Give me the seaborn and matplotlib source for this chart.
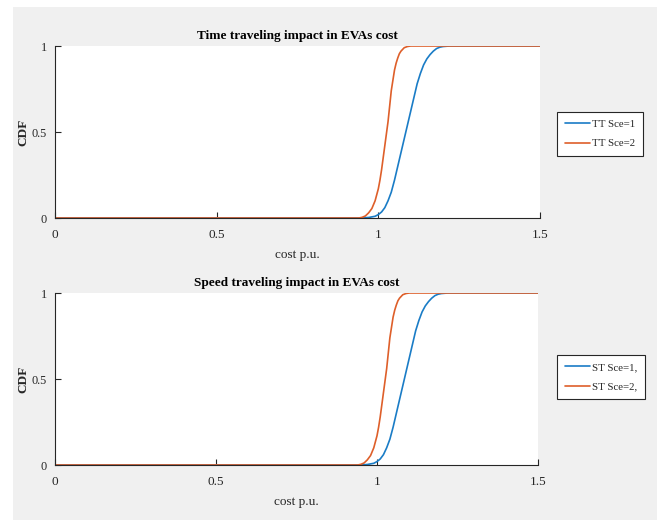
import numpy as np
import pandas as pd
import matplotlib
matplotlib.use("Agg")
import matplotlib.pyplot as plt
import seaborn as sns
from matplotlib.patches import Rectangle
from matplotlib.lines import Line2D

# ---- data ----
tt1_x = [0, 0.95, 0.97, 0.99, 1.00, 1.01, 1.02, 1.03, 1.04, 1.05, 1.06, 1.07, 1.08, 1.09, 1.10,
         1.11, 1.12, 1.13, 1.14, 1.15, 1.16, 1.17, 1.18, 1.19, 1.20, 1.22, 1.5]
tt1_y = [0, 0, 0.003, 0.01, 0.02, 0.035, 0.06, 0.10, 0.15, 0.22, 0.30, 0.38, 0.46, 0.54, 0.62,
         0.70, 0.78, 0.84, 0.89, 0.925, 0.95, 0.97, 0.985, 0.993, 0.997, 1.0, 1.0]
tt2_x = [0, 0.94, 0.95, 0.96, 0.97, 0.98, 0.99, 1.00, 1.005, 1.01, 1.015, 1.02, 1.025, 1.03, 1.035,
         1.04, 1.045, 1.05, 1.055, 1.06, 1.065, 1.07, 1.08, 1.09, 1.10, 1.5]
tt2_y = [0, 0, 0.004, 0.012, 0.03, 0.055, 0.10, 0.17, 0.22, 0.28, 0.35, 0.42, 0.49, 0.56, 0.65,
         0.74, 0.80, 0.86, 0.90, 0.93, 0.955, 0.97, 0.99, 0.997, 1.0, 1.0]

st1_x = [0, 0.95, 0.97, 0.99, 1.00, 1.01, 1.02, 1.03, 1.04, 1.05, 1.06, 1.07, 1.08, 1.09, 1.10,
         1.11, 1.12, 1.13, 1.14, 1.15, 1.16, 1.17, 1.18, 1.19, 1.20, 1.22, 1.5]
st1_y = [0, 0, 0.003, 0.01, 0.02, 0.035, 0.06, 0.10, 0.15, 0.22, 0.30, 0.38, 0.46, 0.54, 0.62,
         0.70, 0.78, 0.84, 0.89, 0.925, 0.95, 0.97, 0.985, 0.993, 0.997, 1.0, 1.0]
st2_x = [0, 0.94, 0.95, 0.96, 0.97, 0.98, 0.99, 1.00, 1.005, 1.01, 1.015, 1.02, 1.025, 1.03, 1.035,
         1.04, 1.045, 1.05, 1.055, 1.06, 1.065, 1.07, 1.08, 1.09, 1.10, 1.5]
st2_y = [0, 0, 0.004, 0.012, 0.03, 0.055, 0.10, 0.17, 0.22, 0.28, 0.35, 0.42, 0.49, 0.56, 0.65,
         0.74, 0.80, 0.86, 0.90, 0.93, 0.955, 0.97, 0.99, 0.997, 1.0, 1.0]

titles = ["Time traveling impact in EVAs cost", "Speed traveling impact in EVAs cost"]
labels_top = ["TT Sce=1", "TT Sce=2"]
labels_bot = ["ST Sce=1,", "ST Sce=2,"]
xticks = [0, 0.5, 1, 1.5]
xticklabels = ["0", "0.5", "1", "1.5"]
yticks = [0, 0.5, 1]
yticklabels = ["0", "0.5", "1"]

sns.set_style("ticks")
plt.rcParams['font.family'] = ['Liberation Serif', 'DejaVu Serif']

blue = "#1a7cc6"
orange = "#de5f2a"
dark = "#262626"

fig = plt.figure(figsize=(6.57, 5.2), dpi=100, facecolor="white")
fig.patches.append(Rectangle((13/657, 0), 1 - 13/657, 1 - 7/520, transform=fig.transFigure,
                             facecolor="#f0f0f0", edgecolor="none", zorder=-10))

ax1 = fig.add_axes([55/657, 1 - 218/520, 485/657, 172/520])
ax2 = fig.add_axes([55/657, 1 - 465/520, 483/657, 172/520])

def build(ax, x1, y1, x2, y2, labels, title, leg_top):
    df = pd.concat([
        pd.DataFrame({"x": x1, "y": y1, "s": labels[0]}),
        pd.DataFrame({"x": x2, "y": y2, "s": labels[1]}),
    ])
    sns.lineplot(data=df, x="x", y="y", hue="s", palette=[blue, orange],
                 ax=ax, linewidth=1.2, sort=False, estimator=None, legend=False)
    ax.set_facecolor("white")
    ax.set_xlim(0, 1.5)
    ax.set_ylim(0, 1)
    ax.set_xticks(xticks)
    ax.set_xticklabels(xticklabels)
    ax.set_yticks(yticks)
    ax.set_yticklabels(yticklabels)
    ax.tick_params(direction="in", length=4, width=0.8, colors=dark, labelsize=9.5, pad=8)
    ax.tick_params(axis="y", pad=6, labelsize=8.8)
    for s in ["top", "right"]:
        ax.spines[s].set_visible(False)
    for s in ["left", "bottom"]:
        ax.spines[s].set_color(dark)
        ax.spines[s].set_linewidth(0.8)
    ax.set_xlabel("cost p.u.", fontsize=9.5, color=dark, labelpad=6)
    ax.set_ylabel("CDF", fontsize=9.5, color=dark, fontweight="bold")
    ax.yaxis.set_label_coords(-26/485, 0.5)
    ax.set_title(title, fontsize=9.5, fontweight="bold", color="black", pad=5)
    handles = [Line2D([], [], color=blue, linewidth=1.2), Line2D([], [], color=orange, linewidth=1.2)]
    leg = fig.legend(handles, labels, loc="upper left",
                     bbox_to_anchor=(557/657, 1 - leg_top/520),
                     frameon=True, fancybox=False, framealpha=1,
                     edgecolor=dark, facecolor="white", fontsize=7.8,
                     handlelength=2.3, handletextpad=0.2, borderpad=0.7, labelspacing=0.9,
                     borderaxespad=0)
    leg.get_frame().set_linewidth(0.8)

build(ax1, tt1_x, tt1_y, tt2_x, tt2_y, labels_top, titles[0], 112)
build(ax2, st1_x, st1_y, st2_x, st2_y, labels_bot, titles[1], 355)

fig.savefig("out.png", dpi=100, facecolor=fig.get_facecolor())
